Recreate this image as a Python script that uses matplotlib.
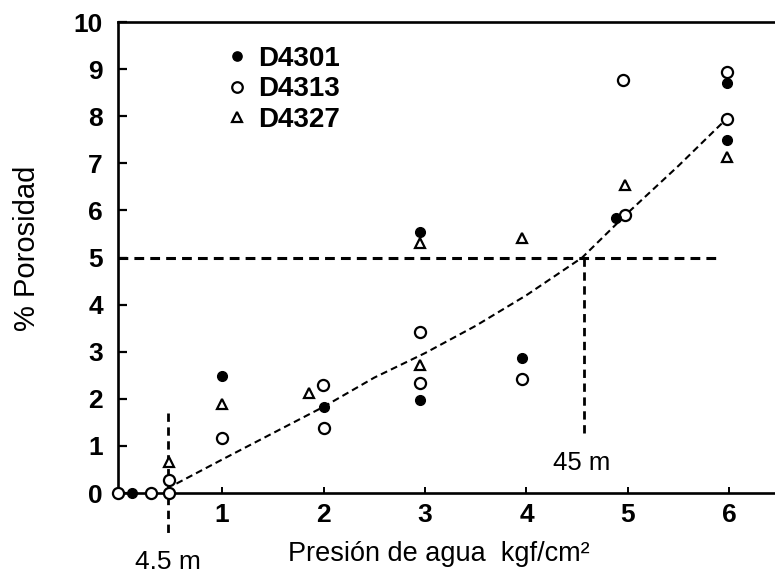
import matplotlib
matplotlib.use("Agg")
import matplotlib.pyplot as plt

plt.rcParams['font.family'] = ['Liberation Sans', 'DejaVu Sans']

# Data (x: Presión de agua kgf/cm², y: % Porosidad)
d4301_x = [0.11, 1.0, 2.0, 2.95, 2.95, 3.96, 4.88, 5.98, 5.98]
d4301_y = [0.0, 2.48, 1.83, 5.54, 1.97, 2.86, 5.83, 8.70, 7.49]

d4313_x = [-0.03, 0.30, 0.48, 0.48, 1.0, 1.99, 2.0, 2.95, 2.95, 3.96, 4.95, 4.97, 5.98, 5.98]
d4313_y = [0.0, 0.0, 0.0, 0.28, 1.17, 2.29, 1.38, 3.42, 2.33, 2.42, 8.77, 5.90, 8.94, 7.94]

d4327_x = [0.48, 1.0, 1.86, 2.95, 2.95, 3.96, 4.97, 5.98]
d4327_y = [0.65, 1.89, 2.12, 5.31, 2.72, 5.41, 6.54, 7.13]

fit_x = [0.55, 1.0, 1.5, 2.0, 2.5, 3.0, 3.5, 4.0, 4.55, 5.0, 5.5, 5.97]
fit_y = [0.20, 0.71, 1.27, 1.83, 2.45, 2.97, 3.55, 4.20, 5.00, 5.95, 6.95, 7.94]

series_labels = ['D4301', 'D4313', 'D4327']
xticks = [1, 2, 3, 4, 5, 6]
yticks = [0, 1, 2, 3, 4, 5, 6, 7, 8, 9, 10]

threshold_y = 5.0
threshold_x_end = 5.88
shallow_x = 0.47   # 4.5 m
deep_x = 4.57      # 45 m

fig = plt.figure(figsize=(7.75, 5.73), dpi=100)
ax = fig.add_axes([0.1523, 0.1396, 0.8477, 0.822])

ax.set_xlim(-0.026, 6.45)
ax.set_ylim(0, 10)

# reference lines
ax.plot([-0.026, threshold_x_end], [threshold_y, threshold_y], color='black',
        lw=2.2, dashes=(3.2, 2.0), zorder=2)
ax.plot([deep_x, deep_x], [threshold_y, 1.17], color='black',
        lw=2.0, dashes=(3.0, 2.0), zorder=2)
ax.plot([shallow_x, shallow_x], [1.7, -0.85], color='black',
        lw=2.0, dashes=(3.0, 2.0), zorder=2, clip_on=False)

# fitted curve
ax.plot(fit_x, fit_y, color='black', lw=1.5, dashes=(3.3, 2.0), zorder=2)

# data points
ax.plot(d4301_x, d4301_y, 'o', ms=7.0, color='black', mec='black',
        label=series_labels[0], clip_on=False, zorder=4)
ax.plot(d4313_x, d4313_y, 'o', ms=8.0, mfc='white', mec='black', mew=1.6,
        label=series_labels[1], clip_on=False, zorder=3)
ax.plot(d4327_x, d4327_y, '^', ms=7.0, mfc='white', mec='black', mew=1.6,
        label=series_labels[2], clip_on=False, zorder=3)

leg = ax.legend(loc='upper left', bbox_to_anchor=(0.1685, 0.950), frameon=False,
                fontsize=20, handlelength=0.6, handletextpad=0.45,
                labelspacing=0.17, borderpad=0, borderaxespad=0,
                markerscale=0.95)
for t in leg.get_texts():
    t.set_fontweight('bold')

# spines
ax.spines['right'].set_visible(False)
for s in ['left', 'top', 'bottom']:
    ax.spines[s].set_linewidth(1.9)

ax.set_xticks(xticks)
ax.set_yticks(yticks)
ax.tick_params(axis='y', direction='in', length=6.5, width=1.6, pad=11,
               labelsize=19)
ax.tick_params(axis='x', direction='in', length=4, width=1.4, pad=7,
               labelsize=19)
for lab in ax.get_xticklabels() + ax.get_yticklabels():
    lab.set_fontweight('bold')

# axis labels
fig.text(27 / 775, 1 - 248 / 573, '% Porosidad', rotation=90, fontsize=21,
         ha='center', va='center')
fig.text(439 / 775, 1 - 554 / 573, 'Presión de agua  kgf/cm²', fontsize=19.5,
         ha='center', va='center')
fig.text(168 / 775, 1 - 562 / 573, '4.5 m', fontsize=19, ha='center', va='center')
fig.text(582 / 775, 1 - 463 / 573, '45 m', fontsize=18.5, ha='center', va='center')

fig.savefig('out.png', dpi=100)
